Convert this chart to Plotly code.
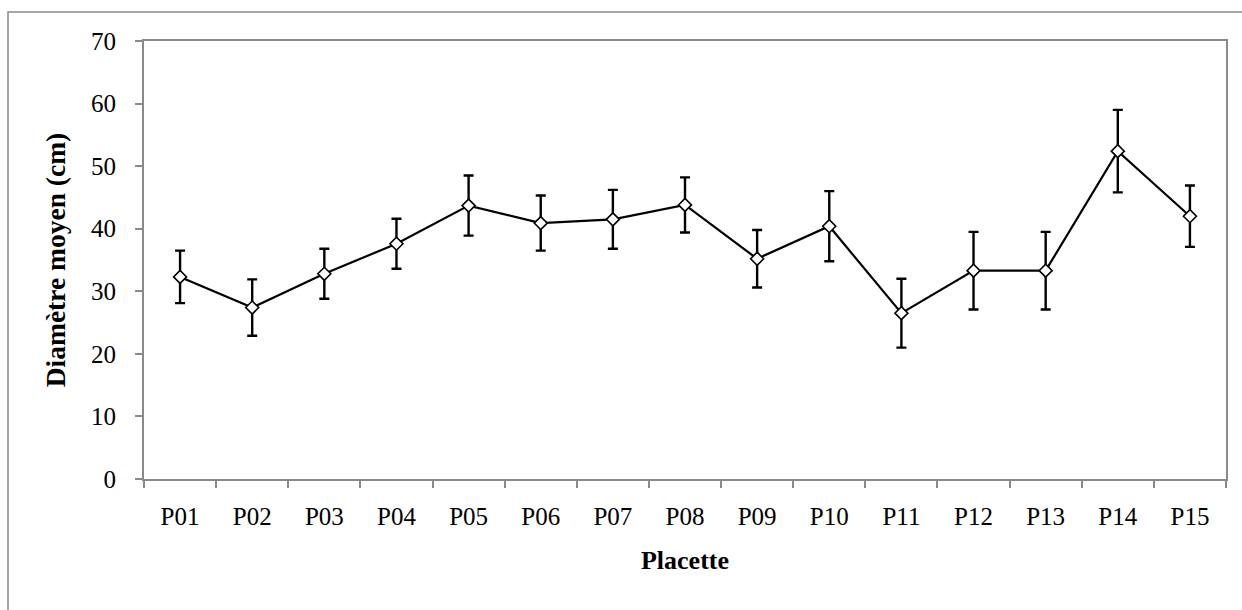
import plotly.graph_objects as go

categories = ["P01", "P02", "P03", "P04", "P05", "P06", "P07", "P08",
              "P09", "P10", "P11", "P12", "P13", "P14", "P15"]
diametre_moyen = [32.3, 27.4, 32.8, 37.6, 43.7, 40.9, 41.5, 43.8,
                  35.2, 40.4, 26.5, 33.3, 33.3, 52.4, 42.0]
erreur = [4.2, 4.5, 4.0, 4.0, 4.8, 4.4, 4.7, 4.4,
          4.6, 5.6, 5.5, 6.2, 6.2, 6.6, 4.9]
y_ticks = [0, 10, 20, 30, 40, 50, 60, 70]

W, H = 1242, 610
ML, MR, MT, MB = 144, 16, 41, 131
AXIS_GREY = "#898989"
FONT = "Liberation Serif, Times New Roman, serif"

fig = go.Figure()
fig.add_trace(go.Scatter(
    x=categories,
    y=diametre_moyen,
    mode="lines+markers",
    line=dict(color="black", width=2.2),
    marker=dict(symbol="diamond", size=10, color="white",
                line=dict(color="black", width=1.6)),
    error_y=dict(type="data", array=erreur, visible=True,
                 color="black", thickness=2.4, width=5),
    showlegend=False,
))

# outer chart-area frame (extends beyond the picture on the right and bottom)
pw = W - ML - MR
ph = H - MT - MB
def px_to_paper_x(px):
    return (px - ML) / pw
def px_to_paper_y(py):
    return 1 - (py - MT) / ph

fig.add_shape(type="rect", xref="paper", yref="paper",
              x0=px_to_paper_x(8), x1=px_to_paper_x(W + 20),
              y0=px_to_paper_y(H + 20), y1=px_to_paper_y(12),
              line=dict(color=AXIS_GREY, width=1.5), fillcolor="rgba(0,0,0,0)",
              layer="below")

fig.update_layout(
    width=W, height=H,
    margin=dict(l=ML, r=MR, t=MT, b=MB),
    paper_bgcolor="white", plot_bgcolor="white",
    font=dict(family=FONT, size=25, color="black"),
    xaxis=dict(
        type="category",
        range=[-0.5, len(categories) - 0.5],
        tickson="boundaries",
        ticks="outside", ticklen=7, tickwidth=1.5, tickcolor=AXIS_GREY,
        showline=True, linecolor=AXIS_GREY, linewidth=2, mirror=True,
        showgrid=False, zeroline=False,
        tickfont=dict(family=FONT, size=25, color="black"),
        ticklabelstandoff=14,
        title=dict(text="<b>Placette</b>", font=dict(family=FONT, size=26, color="black"),
                   standoff=22),
    ),
    yaxis=dict(
        range=[0, 70],
        tickvals=y_ticks,
        ticks="outside", ticklen=7, tickwidth=1.5, tickcolor=AXIS_GREY,
        showline=True, linecolor=AXIS_GREY, linewidth=2, mirror=True,
        showgrid=False, zeroline=False,
        tickfont=dict(family=FONT, size=25, color="black"),
        ticklabelstandoff=14,
        title=dict(text="<b>Diamètre moyen (cm)</b>", font=dict(family=FONT, size=27.5, color="black"),
                   standoff=17),
    ),
)

fig.write_html("out.html")
